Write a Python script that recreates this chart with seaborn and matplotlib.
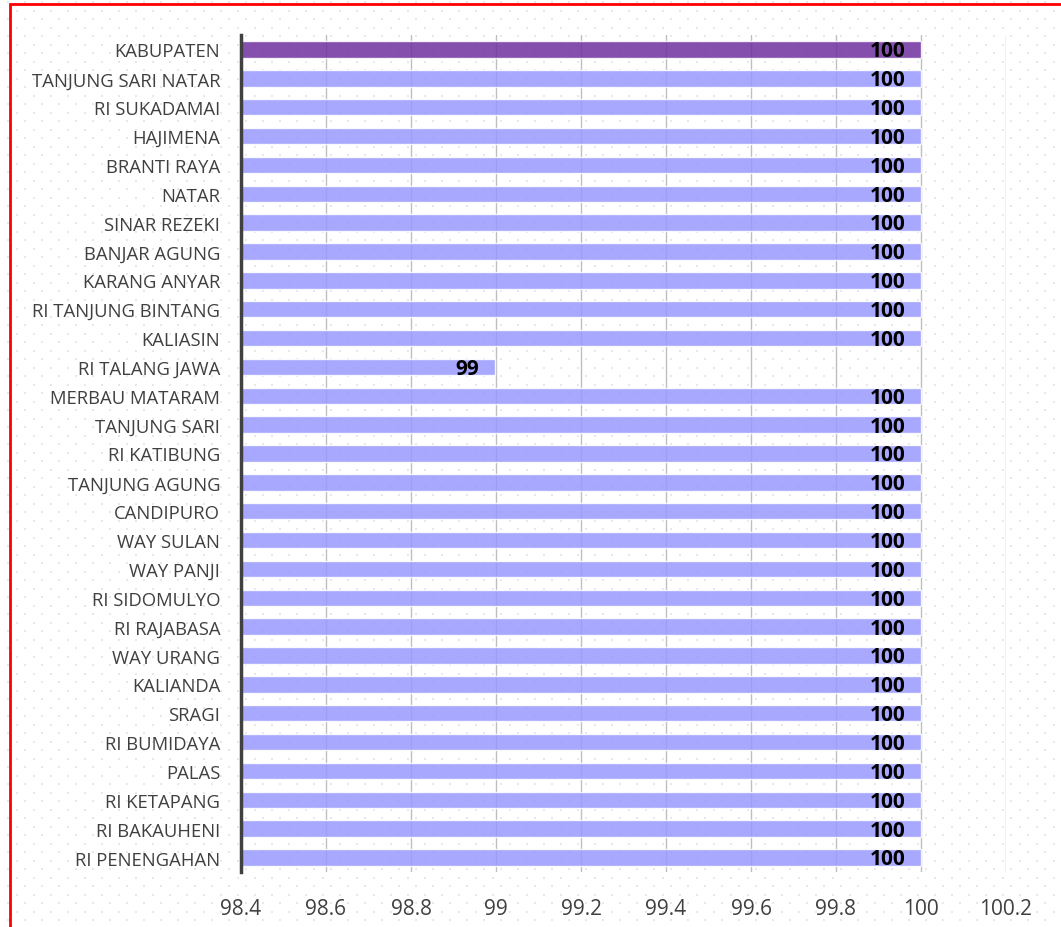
import numpy as np
import pandas as pd
import seaborn as sns
import matplotlib.pyplot as plt
from matplotlib.patches import Rectangle

names = ["KABUPATEN", "TANJUNG SARI NATAR", "RI SUKADAMAI", "HAJIMENA", "BRANTI RAYA",
         "NATAR", "SINAR REZEKI", "BANJAR AGUNG", "KARANG ANYAR", "RI TANJUNG BINTANG",
         "KALIASIN", "RI TALANG JAWA", "MERBAU MATARAM", "TANJUNG SARI", "RI KATIBUNG",
         "TANJUNG AGUNG", "CANDIPURO", "WAY SULAN", "WAY PANJI", "RI SIDOMULYO",
         "RI RAJABASA", "WAY URANG", "KALIANDA", "SRAGI", "RI BUMIDAYA",
         "PALAS", "RI KETAPANG", "RI BAKAUHENI", "RI PENENGAHAN"]
values = [100, 100, 100, 100, 100,
          100, 100, 100, 100, 100,
          100, 98.997, 100, 100, 100,
          100, 100, 100, 100, 100,
          100, 100, 100, 100, 100,
          100, 100, 100, 100]
ticks = [98.4, 98.6, 98.8, 99, 99.2, 99.4, 99.6, 99.8, 100, 100.2]
tick_labels = ["98.4", "98.6", "98.8", "99", "99.2", "99.4", "99.6", "99.8", "100", "100.2"]

df = pd.DataFrame({"name": names, "value": values})
colors = ["#7030A0" if n == "KABUPATEN" else "#9999FF" for n in names]

sns.set_style("white")
plt.rcParams['font.family'] = ['Open Sans', 'DejaVu Sans']

fig = plt.figure(figsize=(10.61, 9.28), dpi=100)

# faint dotted background like the excel chart area
bg = fig.add_axes([0, 0, 1, 1], zorder=-5)
bg.set_xlim(0, 1061)
bg.set_ylim(928, 0)
bg.axis('off')
px, py = [], []
for j in range(110):
    xs = np.arange(8 + (j % 2) * 8.5, 1061, 17)
    px.extend(xs)
    py.extend([3 + j * 8.5] * len(xs))
bg.scatter(px, py, s=2, marker='s', color='#e8e8e8', linewidths=0)

ax = fig.add_axes([241 / 1061, 55 / 928, 765 / 1061, 837 / 928])
ax.set_facecolor('none')
sns.barplot(data=df, x="value", y="name", hue="name", palette=colors, legend=False,
            width=0.57, alpha=0.85, saturation=1, ax=ax, zorder=3)

ax.set_xlim(98.4, 100.2)
ax.set_xticks(ticks)
ax.set_xticklabels(tick_labels)
ax.xaxis.grid(True, color='#bfbfbf', lw=1)
ax.set_axisbelow(True)
for s in ["top", "right", "bottom"]:
    ax.spines[s].set_visible(False)
ax.spines["left"].set_color('#404040')
ax.spines["left"].set_linewidth(2.5)
ax.spines["left"].set_zorder(5)
ax.tick_params(axis='x', length=0, pad=19, labelsize=15, labelcolor='#404040')
ax.tick_params(axis='y', length=0, pad=15, labelsize=13.3, labelcolor='#404040')
ax.set_xlabel("")
ax.set_ylabel("")

for i, v in enumerate(values):
    ax.annotate(f"{v:.0f}", xy=(v, i), xytext=(-11, -1), textcoords='offset points',
                ha='right', va='center', fontsize=15, fontweight='bold', color='black',
                zorder=6)

fig.add_artist(Rectangle((10 / 1061, -0.1), 1.2, 1.1 - 5 / 928, transform=fig.transFigure,
                         fill=False, edgecolor='red', lw=2))

fig.savefig("out.png", dpi=100)
